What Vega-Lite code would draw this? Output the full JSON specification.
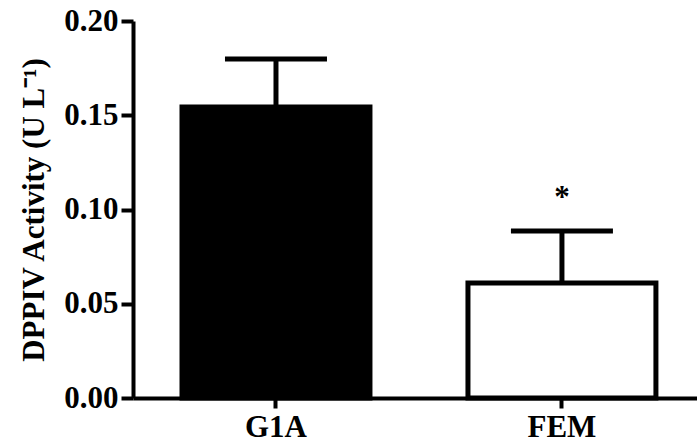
{
  "$schema": "https://vega.github.io/schema/vega-lite/v6.json",
  "width": 564,
  "height": 377,
  "autosize": {"type": "none"},
  "padding": {"left": 133, "top": 21, "right": 0, "bottom": 48},
  "background": "white",
  "config": {"view": {"stroke": null}, "font": "Liberation Serif"},
  "data": {"values": [
    {"group": "G1A", "mean": 0.1544, "upper": 0.1798, "sig": ""},
    {"group": "FEM", "mean": 0.061, "upper": 0.0886, "sig": "*"}
  ]},
  "encoding": {
    "x": {
      "field": "group", "type": "nominal", "sort": ["G1A", "FEM"],
      "scale": {"paddingInner": 0.3427, "paddingOuter": 0.1575, "align": 0.544},
      "axis": {
        "title": null, "labelAngle": 0, "labelFont": "Liberation Serif", "labelFontWeight": "bold",
        "labelFontSize": 31, "labelColor": "black", "domainColor": "black", "domainWidth": 4,
        "tickColor": "black", "tickWidth": 4, "tickSize": 10, "labelPadding": 4
      }
    }
  },
  "layer": [
    {
      "mark": {"type": "bar", "stroke": "black", "strokeWidth": 5},
      "encoding": {
        "y": {
          "field": "mean", "type": "quantitative",
          "scale": {"domain": [0, 0.2], "nice": false},
          "axis": {
            "title": "DPPIV Activity (U L⁻¹)", "values": [0, 0.05, 0.1, 0.15, 0.2], "format": ".2f",
            "grid": false, "labelFont": "Liberation Serif", "labelFontSize": 31, "labelFontWeight": "bold",
            "labelColor": "black", "tickSize": 12, "tickWidth": 4, "tickColor": "black",
            "domainWidth": 4, "domainColor": "black", "labelPadding": 3,
            "titleFont": "Liberation Serif", "titleFontSize": 31, "titleFontWeight": "bold", "titleColor": "black",
            "titleX": -90, "titleBaseline": "alphabetic"
          }
        },
        "fill": {
          "field": "group", "type": "nominal",
          "scale": {"domain": ["G1A", "FEM"], "range": ["black", "white"]},
          "legend": null
        }
      }
    },
    {
      "mark": {"type": "rule", "strokeWidth": 5, "color": "black"},
      "encoding": {
        "y": {"field": "mean", "type": "quantitative"},
        "y2": {"field": "upper"}
      }
    },
    {
      "mark": {"type": "tick", "size": 102, "thickness": 5, "color": "black", "opacity": 1},
      "encoding": {
        "y": {"field": "upper", "type": "quantitative"}
      }
    },
    {
      "transform": [{"filter": "datum.sig != ''"}],
      "mark": {"type": "text", "fontSize": 31, "fontWeight": "bold", "dy": -24, "baseline": "alphabetic", "font": "Liberation Serif", "color": "black"},
      "encoding": {
        "y": {"field": "upper", "type": "quantitative"},
        "text": {"field": "sig"}
      }
    }
  ]
}
